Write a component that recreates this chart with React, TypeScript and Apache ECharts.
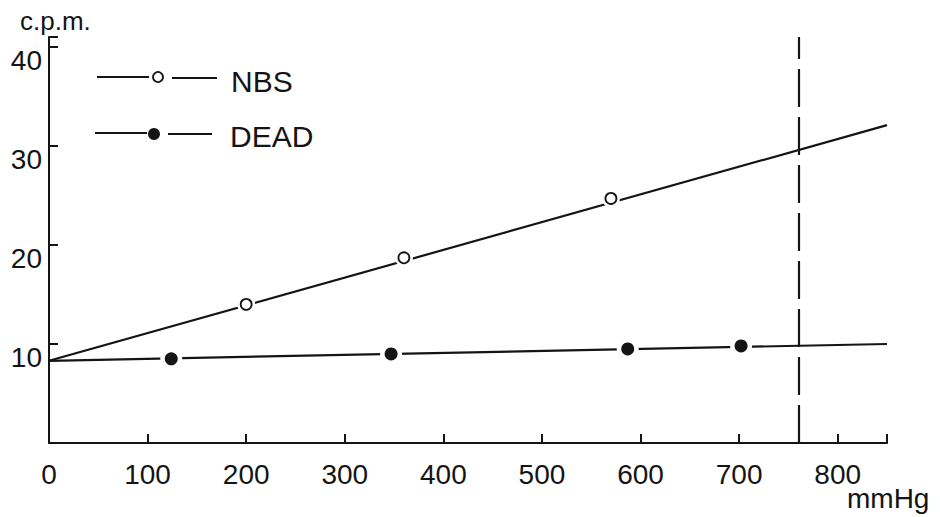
import React, { useEffect, useRef } from "react";
import * as echarts from "echarts";

// Data
const nbsPressure = [200, 360, 570];
const nbsCpm = [14.0, 18.7, 24.7];
const deadPressure = [124, 347, 587, 702];
const deadCpm = [8.5, 9.0, 9.5, 9.8];
const fitPressure = [0, 850];
const nbsFitCpm = [8.3, 32.1];
const deadFitCpm = [8.3, 10.0];
const atmospherePressure = 760;
const xTicks = [0, 100, 200, 300, 400, 500, 600, 700, 800];
const yTicks = [10, 20, 30, 40];
const xUnit = "mmHg";
const yUnit = "c.p.m.";

const INK = "#141414";
const FONT = "Liberation Sans";

export default function App() {
  const ref = useRef<HTMLDivElement>(null);
  useEffect(() => {
    if (!ref.current) return;
    const chart = echarts.init(ref.current, undefined, { renderer: "svg" });
    const pair = (xs: number[], ys: number[]) => xs.map((x, i) => [x, ys[i]]);
    const option: any = {
      animation: false,
      backgroundColor: "#ffffff",
      grid: { left: 49, right: 53, top: 37, bottom: 74, outerBoundsMode: "none", containLabel: false },
      xAxis: {
        type: "value",
        min: 0,
        max: 850,
        interval: 100,
        axisLine: { show: true, lineStyle: { color: INK, width: 2 } },
        axisTick: { show: true, inside: true, length: 9, lineStyle: { color: INK, width: 2 } },
        axisLabel: {
          fontFamily: FONT,
          fontSize: 28,
          color: INK,
          margin: 17,
          formatter: (v: number) => (xTicks.includes(v) ? String(v) : ""),
        },
        splitLine: { show: false },
      },
      yAxis: {
        type: "value",
        min: 0,
        max: 41,
        interval: 10,
        name: yUnit,
        nameLocation: "end",
        nameGap: 0,
        nameTextStyle: {
          fontFamily: FONT,
          fontSize: 26,
          color: INK,
          align: "left",
          verticalAlign: "bottom",
          padding: [0, 0, 3, -29],
        },
        axisLine: { show: true, lineStyle: { color: INK, width: 2 } },
        axisTick: { show: true, inside: true, length: 9, lineStyle: { color: INK, width: 2 } },
        axisLabel: {
          fontFamily: FONT,
          fontSize: 28,
          color: INK,
          margin: 7,
          showMinLabel: false,
          verticalAlign: "top",
          formatter: (v: number) => (yTicks.includes(v) ? String(v) : ""),
        },
        splitLine: { show: false },
      },
      series: [
        {
          name: "NBS fit",
          type: "line",
          data: pair(fitPressure, nbsFitCpm),
          showSymbol: false,
          lineStyle: { color: INK, width: 2.2 },
          z: 1,
          markLine: {
            silent: true,
            symbol: "none",
            label: { show: false },
            lineStyle: { color: INK, width: 2.2, type: [38, 10] },
            data: [{ xAxis: atmospherePressure }],
          },
        },
        {
          name: "DEAD fit",
          type: "line",
          data: pair(fitPressure, deadFitCpm),
          showSymbol: false,
          lineStyle: { color: INK, width: 2.2 },
          z: 1,
        },
        {
          name: "NBS gap",
          type: "scatter",
          data: pair(nbsPressure, nbsCpm),
          symbol: "circle",
          symbolSize: 18,
          itemStyle: { color: "#ffffff", opacity: 1 },
          z: 2,
        },
        {
          name: "DEAD gap",
          type: "scatter",
          data: pair(deadPressure, deadCpm),
          symbol: "circle",
          symbolSize: 22,
          itemStyle: { color: "#ffffff", opacity: 1 },
          z: 2,
        },
        {
          name: "NBS",
          type: "scatter",
          data: pair(nbsPressure, nbsCpm),
          symbol: "circle",
          symbolSize: 11,
          itemStyle: { color: "#ffffff", borderColor: INK, borderWidth: 1.8, opacity: 1 },
          z: 3,
        },
        {
          name: "DEAD",
          type: "scatter",
          data: pair(deadPressure, deadCpm),
          symbol: "circle",
          symbolSize: 13,
          itemStyle: { color: INK, opacity: 1 },
          z: 3,
        },
      ],
      graphic: [
        {
          type: "text",
          x: 847,
          y: 484,
          style: { text: xUnit, fontFamily: FONT, fontSize: 28, fill: INK, verticalAlign: "top" },
        },
        { type: "line", shape: { x1: 97, y1: 77, x2: 149, y2: 77 }, style: { stroke: INK, lineWidth: 2 } },
        { type: "circle", shape: { cx: 158, cy: 77, r: 5 }, style: { fill: "#fff", stroke: INK, lineWidth: 1.8 } },
        { type: "line", shape: { x1: 172, y1: 78, x2: 217, y2: 78 }, style: { stroke: INK, lineWidth: 2 } },
        {
          type: "text",
          x: 231,
          y: 81,
          style: { text: "NBS", fontFamily: FONT, fontSize: 30, fill: INK, verticalAlign: "middle" },
        },
        { type: "line", shape: { x1: 95, y1: 133, x2: 147, y2: 133 }, style: { stroke: INK, lineWidth: 2 } },
        { type: "circle", shape: { cx: 154, cy: 134, r: 6 }, style: { fill: INK } },
        { type: "line", shape: { x1: 168, y1: 134, x2: 212, y2: 134 }, style: { stroke: INK, lineWidth: 2 } },
        {
          type: "text",
          x: 230,
          y: 136,
          style: { text: "DEAD", fontFamily: FONT, fontSize: 30, fill: INK, verticalAlign: "middle" },
        },
      ],
    };
    chart.setOption(option);
    return () => chart.dispose();
  }, []);
  return (
    <div
      ref={ref}
      style={{ position: "fixed", left: 0, top: 0, width: 940, height: 517, background: "#fff" }}
    />
  );
}
